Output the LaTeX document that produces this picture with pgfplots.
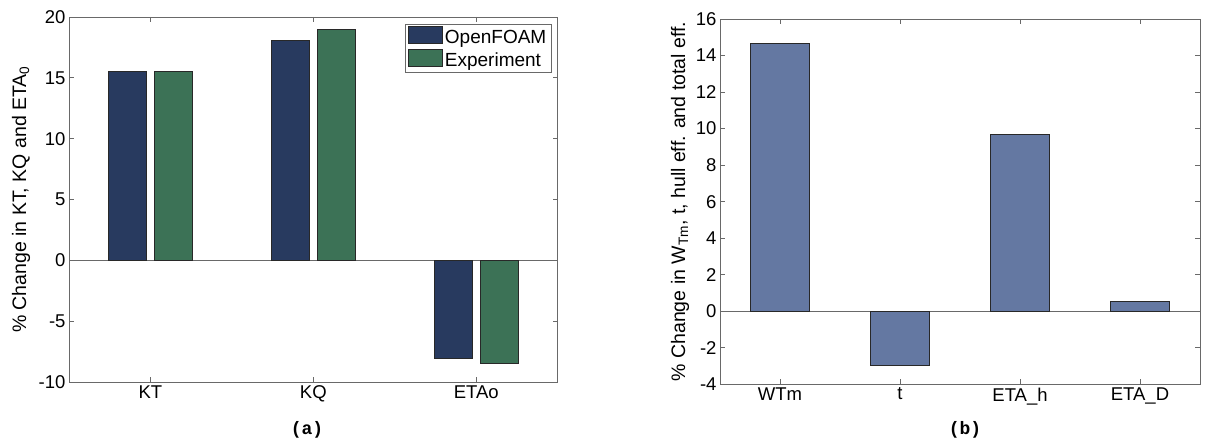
\documentclass[border=0pt]{standalone}
\usepackage{fontspec}
\setmainfont{Liberation Sans}
\setmonofont{Liberation Mono}
\usepackage{pgfplots}
\pgfplotsset{compat=1.18}
\definecolor{navy}{RGB}{40,58,95}
\definecolor{grn}{RGB}{60,114,86}
\definecolor{steel}{RGB}{100,120,162}
\definecolor{axgray}{RGB}{105,105,105}
\definecolor{edge}{RGB}{40,40,40}
\pgfplotsset{
  mystyle/.style={
    scale only axis, anchor=south west,
    axis line style={axgray, line width=0.8bp},
    tick style={axgray, line width=0.8bp},
    major tick length=5bp, tick align=inside, tick pos=both,
    font=\fontsize{18bp}{21bp}\selectfont,
    tick label style={font=\fontsize{18.5bp}{21bp}\selectfont},
    label style={font=\fontsize{19.5bp}{22bp}\selectfont},
    /pgf/number format/assume math mode=true,
    extra y ticks={0}, extra y tick labels={},
    extra y tick style={grid=major, major grid style={axgray, line width=0.8bp}, tick style={draw=none}},
  }
}
\begin{document}
\begin{tikzpicture}
\useasboundingbox (0bp,0bp) rectangle (1211bp,447bp);
\begin{axis}[mystyle,
  at={(69bp,65bp)}, width=488.7bp, height=365bp,
  xmin=0.5, xmax=3.5, ymin=-10, ymax=20,
  ytick={-10,-5,...,20},
  xtick={1,2,3}, xticklabels={KT,KQ,ETAo},
  ylabel={\% Change in KT, KQ and ETA\textsubscript{0}},
  ylabel style={at={(rel axis cs:-0.0982,0.5)}, anchor=center},
  legend style={at={(rel axis cs:1,1)}, anchor=north east, xshift=-6bp, yshift=-7bp,
    draw=axgray, line width=0.8bp, inner xsep=3bp, inner ysep=2bp,
    nodes={inner sep=2bp, text=black}, row sep=2bp,
    font=\fontsize{19bp}{22bp}\selectfont},
  legend cell align=left,
  legend image code/.code={\draw[#1] (0bp,-5.5bp) rectangle (34bp,11bp);},
]
\addplot[ybar, bar width=37.4bp, bar shift=-23bp, fill=navy, draw=edge, line width=0.8bp]
  coordinates {(1,15.5) (2,18.05) (3,-8.05)};
\addplot[ybar, bar width=37.4bp, bar shift=23bp, fill=grn, draw=edge, line width=0.8bp]
  coordinates {(1,15.5) (2,19.0) (3,-8.5)};
\legend{OpenFOAM,Experiment}
\end{axis}
\begin{axis}[mystyle,
  at={(720bp,62.7bp)}, width=480bp, height=365.3bp,
  xmin=0.5, xmax=4.5, ymin=-4, ymax=16,
  ytick={-4,-2,...,16},
  xtick={1,2,3,4}, xticklabels={WTm,t,ETA\_h,ETA\_D},
  ylabel={\% Change in W\textsubscript{Tm}, t, hull eff. and total eff.},
  ylabel style={at={(rel axis cs:-0.0833,0.5)}, anchor=center},
]
\addplot[ybar, bar width=59.6bp, bar shift=0bp, fill=steel, draw=edge, line width=0.8bp]
  coordinates {(1,14.65) (2,-2.94) (3,9.67) (4,0.56)};
\end{axis}
\node[font=\ttfamily\bfseries\fontsize{18bp}{20bp}\selectfont] at (307bp,17.5bp) {(a)};
\node[font=\ttfamily\bfseries\fontsize{18bp}{20bp}\selectfont] at (965bp,17.5bp) {(b)};
\end{tikzpicture}
\end{document}
